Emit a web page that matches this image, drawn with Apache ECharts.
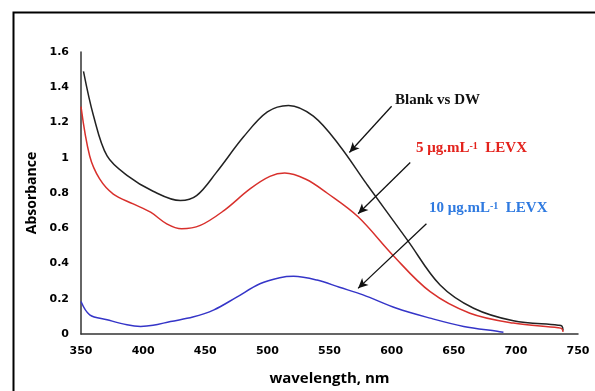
<!DOCTYPE html>
<html>
<head>
<meta charset="utf-8">
<script src="https://cdn.jsdelivr.net/npm/echarts@6/dist/echarts.min.js"></script>
<style>
  html, body { margin: 0; padding: 0; background: #fff; }
  #chart { width: 595px; height: 391px; }
</style>
</head>
<body>
<div id="chart"></div>
<script>
// wavelength (nm) / absorbance
const blankNm = [352, 360, 371, 387, 408, 430, 443, 459, 481, 500, 517, 537, 558, 580, 613, 639, 666, 698, 734, 737, 738]
const blankAbs = [1.49, 1.24, 1.01, 0.90, 0.81, 0.757, 0.785, 0.917, 1.12, 1.26, 1.297, 1.236, 1.07, 0.85, 0.53, 0.278, 0.146, 0.075, 0.05, 0.045, 0.02]
const lev5Nm = [350, 357, 365, 376, 392, 406, 419, 431, 446, 465, 486, 502, 514, 531, 548, 573, 601, 631, 663, 698, 734, 737, 738]
const lev5Abs = [1.29, 1.01, 0.88, 0.794, 0.738, 0.691, 0.625, 0.597, 0.616, 0.70, 0.823, 0.894, 0.913, 0.878, 0.80, 0.665, 0.447, 0.24, 0.118, 0.062, 0.036, 0.03, 0.012]
const lev10Nm = [350, 357, 371, 387, 398, 408, 422, 440, 457, 475, 494, 510, 521, 540, 558, 577, 604, 631, 658, 685, 690]
const lev10Abs = [0.184, 0.109, 0.081, 0.052, 0.043, 0.049, 0.071, 0.096, 0.137, 0.208, 0.285, 0.319, 0.327, 0.306, 0.265, 0.222, 0.146, 0.09, 0.043, 0.015, 0.01]
const xTicks = [350, 400, 450, 500, 550, 600, 650, 700, 750]
const yTicks = [0, 0.2, 0.4, 0.6, 0.8, 1, 1.2, 1.4, 1.6]

const pairs = (xs, ys) => xs.map((x, i) => [x, ys[i]])

const myChart = echarts.init(document.getElementById('chart'))

const arrow = (from, to) => ({ // arrow in data coordinates
  type: 'line',
  data: [],
  silent: true,
  markLine: {
    silent: true,
    symbol: ['none', 'arrow'],
    symbolSize: [7, 10],
    lineStyle: { color: '#111', width: 1.3, type: 'solid' },
    label: { show: false },
    data: [[{ coord: from }, { coord: to }]]
  }
})

const curve = (name, xs, ys, color) => ({
  name: name,
  type: 'line',
  data: pairs(xs, ys),
  smooth: 0.35,
  symbol: 'none',
  lineStyle: { color: color, width: 1.5 }
})

const supLabel = (txt, color) => ({
  text: '{a|' + txt + ' μg.mL}{s|-1}{a|  LEVX}',
  fill: color,
  rich: {
    a: { font: 'bold 15px "Liberation Serif"', fill: color, verticalAlign: 'bottom' },
    s: { font: 'bold 10px "Liberation Serif"', fill: color, verticalAlign: 'top' }
  }
})

myChart.setOption({
  animation: false,
  grid: { left: 81, right: 17, top: 52, bottom: 55 },
  xAxis: {
    type: 'value',
    min: xTicks[0],
    max: xTicks[xTicks.length - 1],
    interval: 50,
    name: 'wavelength, nm',
    nameLocation: 'middle',
    nameGap: 37,
    nameTextStyle: { fontFamily: 'Open Sans', fontWeight: 'bold', fontSize: 15, color: '#000' },
    axisLine: { lineStyle: { color: '#333', width: 1.5 } },
    axisTick: { show: false },
    splitLine: { show: false },
    axisLabel: { fontFamily: 'DejaVu Sans', fontWeight: 'bold', fontSize: 11, color: '#000', margin: 12 }
  },
  yAxis: {
    type: 'value',
    min: yTicks[0],
    max: yTicks[yTicks.length - 1],
    interval: 0.2,
    name: 'Absorbance',
    nameLocation: 'middle',
    nameGap: 40,
    nameTextStyle: { fontFamily: 'Open Sans', fontWeight: 'bold', fontSize: 14, color: '#000' },
    axisLine: { show: true, lineStyle: { color: '#333', width: 1.5 } },
    axisTick: { show: false },
    splitLine: { show: false },
    axisLabel: { fontFamily: 'DejaVu Sans', fontWeight: 'bold', fontSize: 11, color: '#000', margin: 12 }
  },
  series: [
    curve('Blank vs DW', blankNm, blankAbs, '#222'),
    curve('5 LEVX', lev5Nm, lev5Abs, '#d8302c'),
    curve('10 LEVX', lev10Nm, lev10Abs, '#3535c8'),
    arrow([600, 1.292], [566, 1.03]),
    arrow([615, 0.973], [573, 0.682]),
    arrow([628, 0.625], [573, 0.259])
  ],
  graphic: [
    { // outer frame
      type: 'rect',
      left: 11,
      top: 10,
      shape: { width: 600, height: 400 },
      style: { fill: 'none', stroke: '#000', lineWidth: 2 },
      silent: true
    },
    {
      type: 'text',
      left: 395,
      top: 93,
      style: { text: 'Blank vs DW', font: 'bold 15px "Liberation Serif"', fill: '#111' }
    },
    { type: 'text', left: 416, top: 141, style: supLabel('5', '#e3221c') },
    { type: 'text', left: 429, top: 201, style: supLabel('10', '#2f7ae0') }
  ]
})
</script>
</body>
</html>
